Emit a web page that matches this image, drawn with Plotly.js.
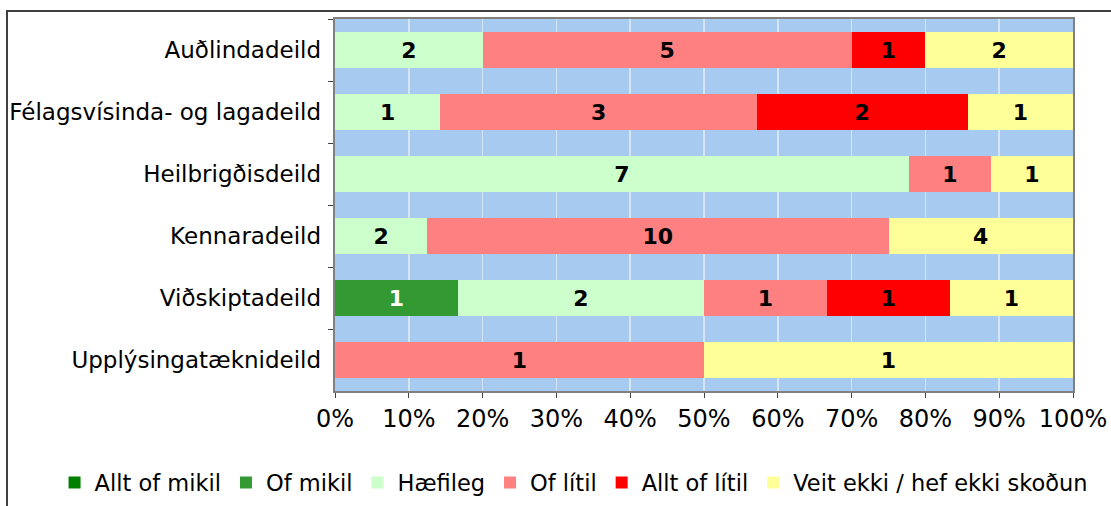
<!DOCTYPE html>
<html>
<head>
<meta charset="utf-8">
<script src="https://cdn.plot.ly/plotly-3.0.1.min.js"></script>
<style>
html,body{margin:0;padding:0;background:#fff;overflow:hidden;}
#frame{position:absolute;left:6px;top:10px;width:2000px;height:2000px;border:2px solid #404040;box-sizing:border-box;}
#chart{position:absolute;left:0;top:0;width:1111px;height:530px;}
</style>
</head>
<body>
<div id="frame"></div>
<div id="chart"></div>
<script>
var categories = ["Auðlindadeild","Félagsvísinda- og lagadeild","Heilbrigðisdeild","Kennaradeild","Viðskiptadeild","Upplýsingatæknideild"];
var seriesNames = ["Allt of mikil","Of mikil","Hæfileg","Of lítil","Allt of lítil","Veit ekki / hef ekki skoðun"];
var alltOfMikil = [null,null,null,null,null,null];
var ofMikil     = [null,null,null,null,1,null];
var haefileg    = [2,1,7,2,2,null];
var ofLitil     = [5,3,1,10,1,1];
var alltOfLitil = [1,2,null,null,1,null];
var veitEkki    = [2,1,1,4,1,1];
var seriesValues = [alltOfMikil, ofMikil, haefileg, ofLitil, alltOfLitil, veitEkki];
var colors = ["#008000","#339933","#CCFFCC","#FF8080","#FF0000","#FFFF99"];
var textColors = ["#ffffff","#ffffff","#000000","#000000","#000000","#000000"];
var xTicks = [0,10,20,30,40,50,60,70,80,90,100];
var xTickLabels = xTicks.map(function(v){return v+"%";});

var traces = seriesValues.map(function(vals,i){
  return {
    type:"bar", orientation:"h", name:seriesNames[i],
    y:categories, x:vals,
    text:vals.map(function(v){return v==null?"":String(v);}),
    texttemplate:"%{text}",
    textposition:"inside", insidetextanchor:"middle", textangle:0,
    constraintext:"none",
    textfont:{family:"DejaVu Sans, Verdana, sans-serif", size:22, color:textColors[i], weight:"bold"},
    marker:{color:colors[i], line:{width:0}},
    hoverinfo:"skip"
  };
});

var layout = {
  width:1111, height:530,
  paper_bgcolor:"rgba(0,0,0,0)",
  plot_bgcolor:"#A6CAF0",
  margin:{l:335,r:38,t:19,b:139,pad:0},
  barmode:"stack", barnorm:"percent", bargap:0.42,
  font:{family:"DejaVu Sans, Verdana, sans-serif", size:23, color:"#000"},
  showlegend:true,
  legend:{orientation:"h", x:-0.38, y:-0.247, xanchor:"left", yanchor:"middle",
          font:{size:22.5, color:"#000"}, itemwidth:30, traceorder:"normal", bgcolor:"rgba(0,0,0,0)", tracegroupgap:0},
  xaxis:{range:[0,100], tickvals:xTicks, ticktext:xTickLabels, ticks:"outside", ticklen:5, tickcolor:"#404040",
         showgrid:true, gridcolor:"rgba(235,240,250,0.7)", gridwidth:1.5, zeroline:false,
         showline:true, linecolor:"#808080", linewidth:2, mirror:true, fixedrange:true,
         tickfont:{size:24}},
  yaxis:{autorange:"reversed", type:"category", ticks:"outside", ticklen:5, tickcolor:"#404040", tickson:"boundaries",
         showgrid:false, showline:true, linecolor:"#808080", linewidth:2, mirror:true, fixedrange:true,
         ticksuffix:" ", tickfont:{size:23}}
};

Plotly.newPlot("chart", traces, layout, {displayModeBar:false, staticPlot:true});
</script>
</body>
</html>
